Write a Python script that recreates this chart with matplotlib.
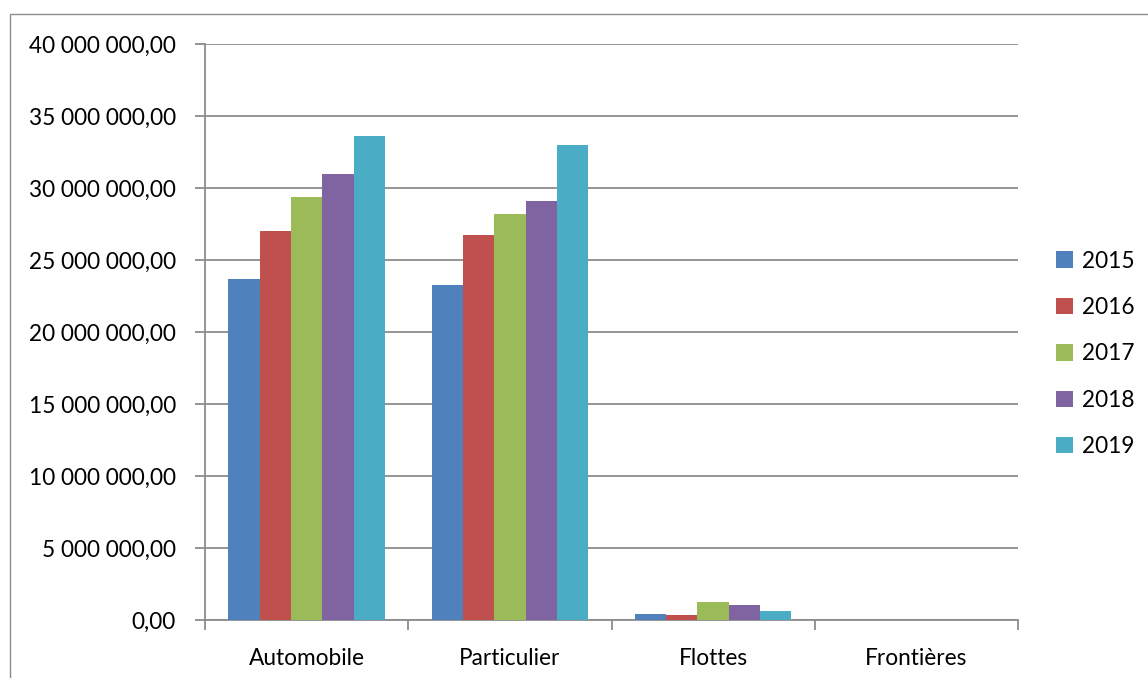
import matplotlib
matplotlib.use("Agg")
import matplotlib.pyplot as plt
from matplotlib.patches import Rectangle
from matplotlib.ticker import FuncFormatter, MultipleLocator
import numpy as np

categories = ["Automobile", "Particulier", "Flottes", "Frontières"]
years = ["2015", "2016", "2017", "2018", "2019"]
values = {
    "2015": [23_660_000, 23_270_000, 420_000, 0],
    "2016": [27_010_000, 26_710_000, 330_000, 0],
    "2017": [29_370_000, 28_170_000, 1_240_000, 0],
    "2018": [30_940_000, 29_070_000, 1_050_000, 0],
    "2019": [33_600_000, 32_990_000, 620_000, 0],
}
colors = ["#4F81BD", "#C0504D", "#9BBB59", "#8064A2", "#4BACC6"]

plt.rcParams["font.family"] = ["Lato", "DejaVu Sans"]
W, H = 1148, 678
fig = plt.figure(figsize=(W / 100, H / 100), dpi=100)
fig.patch.set_facecolor("white")

# outer chart frame (open at the right and bottom edges)
fig.patches.append(Rectangle((10 / W, -0.1), 1.2, 1 - 14 / H + 0.1,
                             transform=fig.transFigure, fill=False,
                             edgecolor="#8c8c8c", linewidth=1.0))

ax = fig.add_axes([205 / W, 1 - 620 / H, (1018 - 205) / W, (620 - 44) / H])

n = len(years)
bw = 1 / 6.5
x = np.arange(len(categories))
for i, (yr, c) in enumerate(zip(years, colors)):
    offs = (i - (n - 1) / 2) * bw
    ax.bar(x + offs, values[yr], width=bw, color=c, label=yr, zorder=3,
           edgecolor="none")

ax.set_xlim(-0.5, len(categories) - 0.5)
ax.set_ylim(0, 40_000_000)
ax.yaxis.set_major_locator(MultipleLocator(5_000_000))

def fmt(v, pos):
    s = f"{int(round(v)):,}".replace(",", " ")
    return s + ",00"

ax.yaxis.set_major_formatter(FuncFormatter(fmt))
ax.grid(axis="y", color="#8c8c8c", linewidth=1.3, zorder=0)
ax.set_axisbelow(True)

ax.set_xticks(x)
ax.set_xticklabels(categories)
ax.set_xticks(np.arange(-0.5, len(categories)), minor=True)
ax.tick_params(axis="x", which="major", length=0, pad=20, labelsize=16.3)
ax.tick_params(axis="x", which="minor", length=7, width=1.3, color="#8c8c8c")
ax.tick_params(axis="y", length=7, width=1.3, color="#8c8c8c", labelsize=16.3, pad=14)

for s in ["top", "right"]:
    ax.spines[s].set_visible(False)
for s in ["left", "bottom"]:
    ax.spines[s].set_color("#8c8c8c")
    ax.spines[s].set_linewidth(1.3)

leg = ax.legend(loc="center left", bbox_to_anchor=(1.022, 0.462), frameon=False,
                fontsize=16.3, handlelength=0.75, handleheight=0.75,
                handletextpad=0.4, labelspacing=1.12)

fig.savefig("out.png", dpi=100, facecolor="white")
